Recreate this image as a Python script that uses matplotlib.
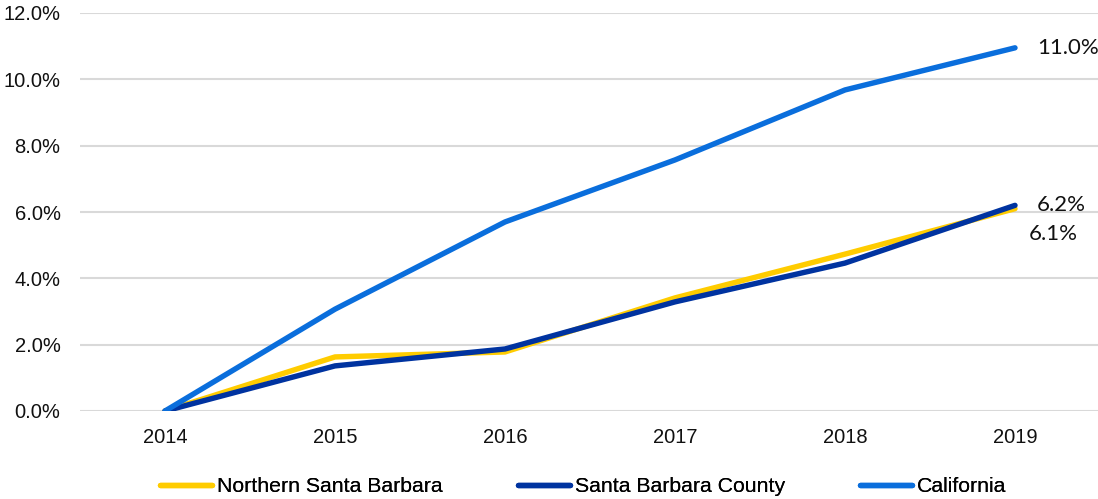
import numpy as np
import matplotlib.pyplot as plt
from matplotlib.ticker import FuncFormatter

# DATA
years = ["2014", "2015", "2016", "2017", "2018", "2019"]
northern_sb = [0.0, 1.63, 1.78, 3.41, 4.73, 6.1]
sb_county = [0.0, 1.36, 1.87, 3.29, 4.46, 6.2]
california = [0.0, 3.07, 5.70, 7.57, 9.68, 10.95]
series_names = ["Northern Santa Barbara", "Santa Barbara County", "California"]
end_labels = ["6.1%", "6.2%", "11.0%"]

colors = ["#FFCC00", "#0033A0", "#0A6EDC"]

plt.rcParams['font.family'] = ['Liberation Sans', 'DejaVu Sans']

fig = plt.figure(figsize=(10.98, 4.99), dpi=100)
ax = fig.add_axes([80 / 1098, 1 - 411 / 499, 1020 / 1098, 398 / 499])

x = np.arange(len(years))
all_series = [northern_sb, sb_county, california]
lines = []
for vals, name, col in zip(all_series, series_names, colors):
    ln, = ax.plot(x, vals, color=col, lw=3.9, label=name,
                  solid_capstyle='round', solid_joinstyle='round')
    lines.append(ln)

# end-of-line labels
offsets = [(10, -18), (16, 0), (16, 0)]
for vals, lab, off in zip(all_series, end_labels, offsets):
    ax.annotate(lab, (x[-1], vals[-1]), xytext=off, textcoords='offset points',
                ha='left', va='center', fontsize=16, family=['Lato', 'DejaVu Sans'],
                color='#111111')

ax.set_xlim(-0.5, 5.5)
ax.set_ylim(0, 12)
ax.set_xticks(x)
ax.set_xticklabels(years)
ax.set_yticks(np.arange(0, 13, 2))
ax.yaxis.set_major_formatter(FuncFormatter(lambda v, p: "%.1f%%" % v))
ax.tick_params(length=0, labelsize=14.5, colors='#111111')
ax.tick_params(axis='x', pad=12)
ax.tick_params(axis='y', pad=14)
ax.grid(axis='y', color='#d9d9d9', lw=1.5)
ax.set_axisbelow(True)
for s in ax.spines.values():
    s.set_visible(False)

# legend entries spaced like the original (one legend per entry)
legend_x = [160, 518, 860]
for ln, lx in zip(lines, legend_x):
    leg = fig.legend([ln], [ln.get_label()], loc='center left',
                     bbox_to_anchor=(lx / 1098, 1 - 487 / 499), frameon=False,
                     fontsize=15.3, handlelength=2.45, handletextpad=0.24,
                     borderpad=0, borderaxespad=0)
    fig.add_artist(leg)

fig.savefig("out.png", dpi=100)
